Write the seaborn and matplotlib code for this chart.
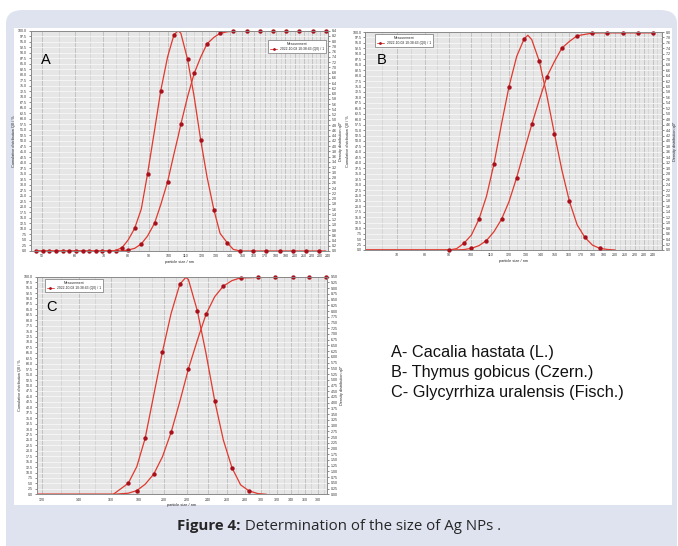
import matplotlib
matplotlib.use("Agg")
import matplotlib.pyplot as plt
import matplotlib.ticker as mticker
from matplotlib.patches import FancyBboxPatch, Rectangle
from matplotlib.lines import Line2D
import seaborn as sns

sns.set_style("white")
plt.rcParams["font.family"] = ["Liberation Sans", "DejaVu Sans"]

# --- data ---
# A - Cacalia hastata
a_size = [48.5, 50.3, 52.1, 54.0, 56.0, 58.1, 60.2, 62.5, 64.8, 67.1, 69.6, 72.2,
          74.9, 77.6, 80.2, 83.1, 86.2, 89.2, 92.7, 95.9, 99.6, 103.1, 105.5, 107.1,
          111.1, 115.2, 119.4, 123.6, 128.4, 132.8, 138.0, 142.8, 148.4, 153.5, 159.2,
          165.1, 171.2, 177.5, 184.0, 190.8, 197.8, 205.1, 212.7, 220.5, 228.7, 237.1]
a_density = [0, 0, 0, 0, 0, 0, 0, 0, 0, 0, 0, 0, 0.02, 0.13, 0.42, 0.86, 1.60, 2.94,
             4.60, 6.11, 7.41, 8.24, 8.40, 8.30, 7.31, 5.88, 4.23, 2.83, 1.56, 0.67,
             0.32, 0.06, 0, 0, 0, 0, 0, 0, 0, 0, 0, 0, 0, 0, 0, 0]
a_cumulative = [0, 0, 0, 0, 0, 0, 0, 0, 0, 0, 0, 0, 0, 0.1, 0.45, 1.2, 3.2, 6.8, 12.6,
                21.0, 31.5, 44.0, 52.0, 57.6, 70.0, 80.6, 88.0, 94.0, 97.0, 98.8, 99.5,
                99.8, 99.8, 99.8, 99.8, 99.8, 99.8, 99.8, 99.8, 99.8, 99.8, 99.8, 99.8,
                99.8, 99.8, 99.8]
a_dens_marks = [50.3, 54.0, 58.1, 62.5, 67.1, 72.2, 77.6, 83.1, 89.2, 95.9, 103.1,
                111.1, 119.4, 128.4, 138.0, 148.4, 159.2, 171.2, 184.0, 197.8, 212.7,
                228.7]
a_cum_marks = [48.5, 52.1, 56.0, 60.2, 64.8, 69.6, 74.9, 80.2, 86.2, 92.7, 99.6, 107.1,
               115.2, 123.6, 132.8, 142.8, 153.5, 165.1, 177.5, 190.8, 205.1, 220.5,
               237.1]
a_xticks = [50, 60, 70, 80, 90, 100, 110, 120, 130, 140, 150, 160, 170, 180, 190,
            200, 210, 220, 230, 240]

# B - Thymus gobicus
b_size = [60.0, 90.1, 93.3, 96.7, 100.2, 103.9, 107.7, 111.7, 115.9, 120.1, 124.6,
          129.1, 131.5, 134.0, 139.0, 144.0, 149.5, 154.9, 160.7, 166.8, 173.0, 179.5,
          186.0, 193.0, 200.3, 207.5, 215.3, 223.1, 231.5, 239.8]
b_density = [0, 0, 0.05, 0.25, 0.55, 1.13, 1.96, 3.16, 4.65, 6.00, 7.10, 7.74, 7.88,
             7.72, 6.92, 5.70, 4.26, 2.94, 1.78, 0.92, 0.47, 0.18, 0.06, 0.02, 0]
b_cumulative = [0, 0, 0.05, 0.2, 0.77, 2.0, 4.3, 8.4, 14.2, 22.2, 33.2, 45.2, 51.3,
                57.6, 68.9, 79.3, 86.5, 92.6, 95.7, 98.3, 98.9, 99.5, 99.6, 99.6, 99.6,
                99.6, 99.6, 99.6, 99.6, 99.6]
b_dens_marks = [90.1, 96.7, 103.9, 111.7, 120.1, 129.1, 139.0, 149.5, 160.7, 173.0,
                186.0]
b_cum_marks = [100.2, 107.7, 115.9, 124.6, 134.0, 144.0, 154.9, 166.8, 179.5, 193.0,
               207.5, 223.1, 239.8]
b_xticks = [70, 80, 90, 100, 110, 120, 130, 140, 150, 160, 170, 180, 190, 200, 210,
            220, 230, 240]

# C - Glycyrrhiza uralensis
c_size = [117.5, 161.8, 172.2, 178.5, 184.8, 191.6, 198.7, 206.0, 213.6, 219.0, 221.4,
          229.9, 238.3, 247.1, 256.2, 265.6, 275.4, 285.1, 296.0, 306.9, 318.1, 329.8,
          342.0, 354.5, 367.1, 380.6, 394.0]
c_density = [0, 0, 0.48, 1.21, 2.44, 4.34, 6.23, 7.90, 9.17, 9.47, 9.38, 8.00, 6.15,
             4.09, 2.37, 1.16, 0.41, 0.15, 0.03, 0]
c_cumulative = [0, 0, 0.5, 1.7, 4.6, 9.3, 17.3, 28.5, 42.6, 53.0, 57.6, 70.9, 82.7,
                90.8, 95.7, 98.2, 99.5, 99.5, 99.7, 99.7, 99.7, 99.7, 99.7, 99.7, 99.7,
                99.7, 99.7]
c_dens_marks = [172.2, 184.8, 198.7, 213.6, 229.9, 247.1, 265.6, 285.1]
c_cum_marks = [178.5, 191.6, 206.0, 221.4, 238.3, 256.2, 275.4, 296.0, 318.1, 342.0,
               367.1, 394.0]
c_xticks = [120, 140, 160, 180, 200, 220, 240, 260, 280, 300, 320, 340, 360, 380]

species = ["A- Cacalia hastata (L.)", "B- Thymus gobicus (Czern.)",
           "C- Glycyrrhiza uralensis (Fisch.)"]

LINE = "#e0392e"
MARK = "#a8101c"
W, H = 678, 546


def draw_panel(ax, size, density, cumulative, dens_marks, cum_marks, xlim, xticks,
               xminor, dens_max, dens_step, dens_fmt, letter, letter_xy,
               leg_loc, leg_anchor):
    ax.set_xscale("log")
    ax.set_facecolor("#e6e6e6")
    ax2 = ax.twinx()

    sns.lineplot(x=size[:len(cumulative)], y=cumulative, ax=ax, color=LINE, lw=0.9,
                 estimator=None, sort=False)
    sns.lineplot(x=size[:len(density)], y=density, ax=ax2, color=LINE, lw=0.9,
                 estimator=None, sort=False)
    sns.scatterplot(x=cum_marks, y=[cumulative[size.index(s)] for s in cum_marks],
                    ax=ax, color=MARK, s=10, linewidth=0, zorder=5, clip_on=False)
    sns.scatterplot(x=dens_marks, y=[density[size.index(s)] for s in dens_marks],
                    ax=ax2, color=MARK, s=10, linewidth=0, zorder=5, clip_on=False)

    ax.set_xlim(xlim)
    ax.set_ylim(0, 100)
    ax2.set_ylim(0, dens_max)

    ax.xaxis.set_major_locator(mticker.FixedLocator(xticks))
    ax.xaxis.set_major_formatter(mticker.FixedFormatter([str(t) for t in xticks]))
    ax.xaxis.set_minor_locator(mticker.FixedLocator(xminor))
    ax.xaxis.set_minor_formatter(mticker.NullFormatter())
    ax.yaxis.set_major_locator(mticker.MultipleLocator(2.5))
    ax.yaxis.set_major_formatter(mticker.FormatStrFormatter("%.1f"))
    ax2.yaxis.set_major_locator(mticker.MultipleLocator(dens_step))
    ax2.yaxis.set_major_formatter(mticker.FormatStrFormatter(dens_fmt))

    ax.grid(True, which="major", axis="x", color="#b4b4b4", lw=0.5)
    ax.grid(True, which="minor", axis="x", color="#cacaca", lw=0.4)
    ax.grid(True, which="major", axis="y", color="#f7f7f7", lw=0.6)
    ax.set_axisbelow(True)

    for a in (ax, ax2):
        a.tick_params(axis="both", which="both", labelsize=2.6, length=1.5,
                      width=0.4, pad=1, colors="#333333")
        a.tick_params(axis="x", which="minor", length=0.8)
        for sp in a.spines.values():
            sp.set_color("#8a8a8a")
            sp.set_linewidth(0.6)

    ax.set_xlabel("particle size / nm", fontsize=2.8, labelpad=1)
    ax.set_ylabel("Cumulative distribution Q0 / %", fontsize=2.8, labelpad=1.5)
    ax2.set_ylabel("Density distribution q0*", fontsize=2.8, labelpad=1.5)

    ax.text(letter_xy[0], letter_xy[1], letter, transform=ax.transAxes, fontsize=10.5,
            va="center", ha="left", color="black")

    handle = Line2D([], [], color=LINE, lw=0.6, marker="o", markersize=2,
                    markerfacecolor=MARK, markeredgewidth=0)
    leg = ax2.legend([handle], ["2022-10-08 10:38:43 (Q0) / 1"], title="Measurement",
                     loc=leg_loc, bbox_to_anchor=leg_anchor, fontsize=2.4,
                     title_fontsize=2.4, frameon=True, fancybox=False,
                     edgecolor="#555555", framealpha=1, borderpad=0.5,
                     handlelength=2.2, borderaxespad=0)
    leg.get_frame().set_linewidth(0.4)
    return ax2


fig = plt.figure(figsize=(W / 100, H / 100), dpi=100)
fig.patch.set_facecolor("white")
fig.patches.append(FancyBboxPatch((6 / W, -0.05), 671 / W, 536 / H + 0.05,
                                  boxstyle="round,pad=0,rounding_size=0.025",
                                  transform=fig.transFigure, facecolor="#dfe3f0",
                                  edgecolor="none", zorder=-10))
fig.patches.append(Rectangle((14 / W, 1 - 505 / H), 658 / W, 477 / H,
                             transform=fig.transFigure, facecolor="white",
                             edgecolor="none", zorder=-9))


def axes_box(left, right, top, bottom):
    return [left / W, 1 - bottom / H, (right - left) / W, (bottom - top) / H]


ax_a = fig.add_axes(axes_box(30.7, 328, 30.7, 251))
draw_panel(ax_a, a_size, a_density, a_cumulative, a_dens_marks, a_cum_marks,
           (47, 240), a_xticks, list(range(45, 241, 5)), 8.4, 0.2, "%.1f", "A",
           (0.035, 0.867), "upper right", (0.993, 0.958))

ax_b = fig.add_axes(axes_box(365, 662, 32, 250))
draw_panel(ax_b, b_size, b_density, b_cumulative, b_dens_marks, b_cum_marks,
           (60, 251), b_xticks, list(range(60, 251, 5)), 8.0, 0.2, "%.1f", "B",
           (0.04, 0.872), "upper left", (0.034, 0.991))

ax_c = fig.add_axes(axes_box(36.7, 327, 276.7, 494.3))
draw_panel(ax_c, c_size, c_density, c_cumulative, c_dens_marks, c_cum_marks,
           (117.5, 395), c_xticks, list(range(120, 391, 10)), 9.5, 0.25, "%.2f", "C",
           (0.032, 0.861), "upper left", (0.029, 0.99))

for i, name in enumerate(species):
    fig.text(391 / W, 1 - (353 + 20 * i) / H, name, fontsize=11.7, va="center",
             ha="left", family=["Liberation Sans", "DejaVu Sans"], color="#111111")

# caption: bold lead + regular text, centred together
cap_y = 1 - 526 / H
t1 = fig.text(0, cap_y, "Figure 4:", fontsize=10.8, weight="bold", va="center",
              ha="left", family=["Open Sans", "DejaVu Sans"])
t2 = fig.text(0, cap_y, " Determination of the size of Ag NPs .", fontsize=10.8,
              va="center", ha="left", family=["Open Sans", "DejaVu Sans"])
fig.canvas.draw()
r = fig.canvas.get_renderer()
w1 = t1.get_window_extent(r).width / fig.bbox.width
w2 = t2.get_window_extent(r).width / fig.bbox.width
x0 = 0.5 - (w1 + w2) / 2
t1.set_x(x0)
t2.set_x(x0 + w1)

fig.savefig("out.png", dpi=100)
